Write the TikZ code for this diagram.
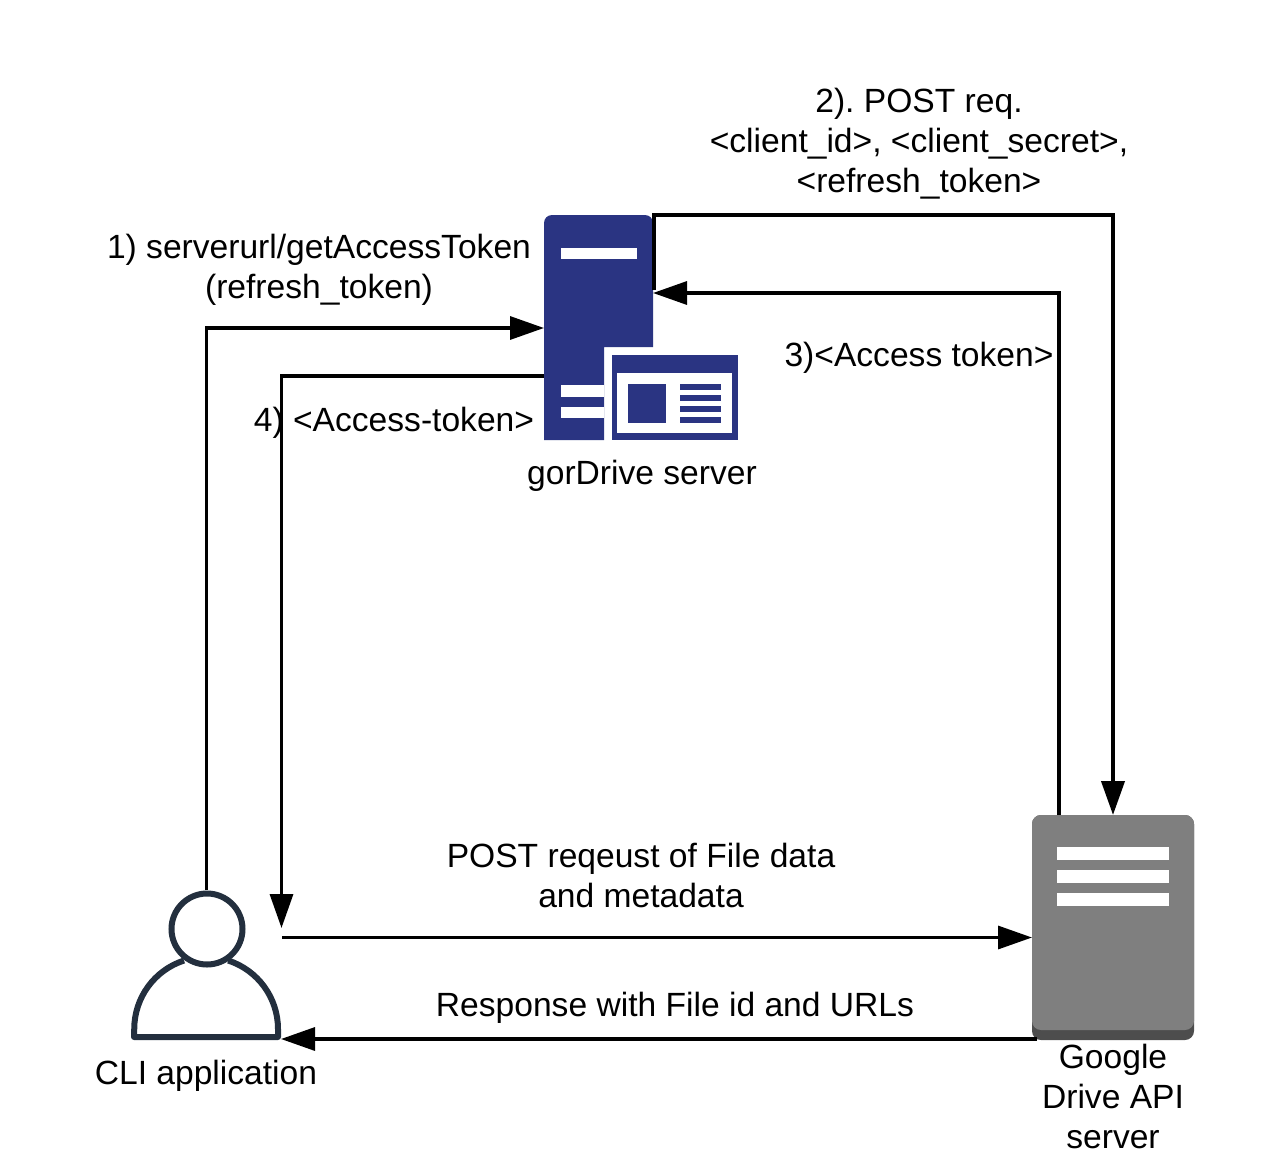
\documentclass[tikz,border=0pt]{standalone}
\usepackage{fontspec}
\setmainfont{Liberation Sans}
\usetikzlibrary{arrows.meta}
\definecolor{srv}{HTML}{2A3482}
\definecolor{usr}{HTML}{232F3E}
\definecolor{gapi}{HTML}{7F7F7F}
\definecolor{gapid}{HTML}{4D4D4D}
\tikzset{
  x=1pt,y=-1pt,
  lbl/.style={inner sep=0pt,align=center,font=\fontsize{33.6}{40}\selectfont\frenchspacing,text=black},
  wire/.style={line width=3.3pt,draw=black,-{Triangle[length=34pt,width=23pt]}},
}
\begin{document}
\begin{tikzpicture}
\useasboundingbox (0,0) rectangle (1269,1172);
% --- named anchors
\coordinate (cliTop) at (206.5,890);
\coordinate (srvIn) at (544,328);
\coordinate (srvOut) at (544,376);
\coordinate (srvPost) at (653.5,290);
\coordinate (srvBack) at (653,293);
\coordinate (gTopR) at (1113,815);
\coordinate (gTopL) at (1059,815);
\coordinate (cliIn) at (281.5,928);
\coordinate (cliOut) at (282,937.5);
\coordinate (gIn) at (1032,937.5);
\coordinate (gOut) at (1037,1039);
\coordinate (cliBack) at (281,1039);
% --- gorDrive server icon
\fill[srv] (544,440) -- (544,223) arc[start angle=180,end angle=270,radius=8] -- (645,215) arc[start angle=270,end angle=360,radius=8] -- (653,347) -- (604,347) -- (604,440) -- cycle;
\fill[white] (561,248) rectangle (637,259);
\fill[white] (561,385) rectangle (604,397);
\fill[white] (561,407) rectangle (604,418);
\fill[srv] (612,355) rectangle (738,440);
\fill[white] (617,373) rectangle (732,433);
\fill[srv] (628,384) rectangle (666,423);
\fill[srv] (680,384) rectangle (721,390);
\fill[srv] (680,395) rectangle (721,401);
\fill[srv] (680,406) rectangle (721,412);
\fill[srv] (680,417) rectangle (721,423);
% --- Google Drive icon
\fill[gapid,rounded corners=9pt] (1032,815) rectangle (1194,1040);
\fill[gapi,rounded corners=9pt] (1032,815) rectangle (1194,1030);
\fill[white] (1057,847) rectangle (1169,860);
\fill[white] (1057,870) rectangle (1169,883);
\fill[white] (1057,893) rectangle (1169,906);
% --- connectors
\draw[wire] (cliTop) |- (srvIn);
\draw[wire] (srvOut) -| (cliIn);
\draw[wire,line width=4pt] (srvPost) -- (653.5,215) -- (1113,215) -- (gTopR);
\draw[wire] (gTopL) |- (srvBack);
\draw[wire] (cliOut) -- (gIn);
\draw[wire] (gOut) -- (cliBack);
% --- user icon
\draw[usr,line width=6pt,line join=round]
  (184,960.5) arc[start angle=252,end angle=180,radius=72] -- (134,1037) -- (278,1037) -- (278,1029)
  arc[start angle=360,end angle=288,radius=72];
\draw[usr,line width=6pt] (207,929) circle[radius=35.5];
% --- labels
\node[lbl] (l2) at (919,144) {2). POST req.\\<client\_id>, <client\_secret>,\\<refresh\_token>};
\node[lbl] (l1) at (319,270) {1) serverurl/getAccessToken\\(refresh\_token)};
\node[lbl] (l3) at (919,358) {3)<Access token>};
\node[lbl] (l4) at (394,423) {4) <Access-token>};
\node[lbl] (lsrv) at (642,476) {gorDrive server};
\node[lbl] (l5) at (641,875) {POST reqeust of File data\\and metadata};
\node[lbl] (l6) at (675,1008) {Response with File id and URLs};
\node[lbl] (lcli) at (206,1076) {CLI application};
\node[lbl] (lg) at (1113,1096) {Google\\Drive API\\server};
\end{tikzpicture}
\end{document}
